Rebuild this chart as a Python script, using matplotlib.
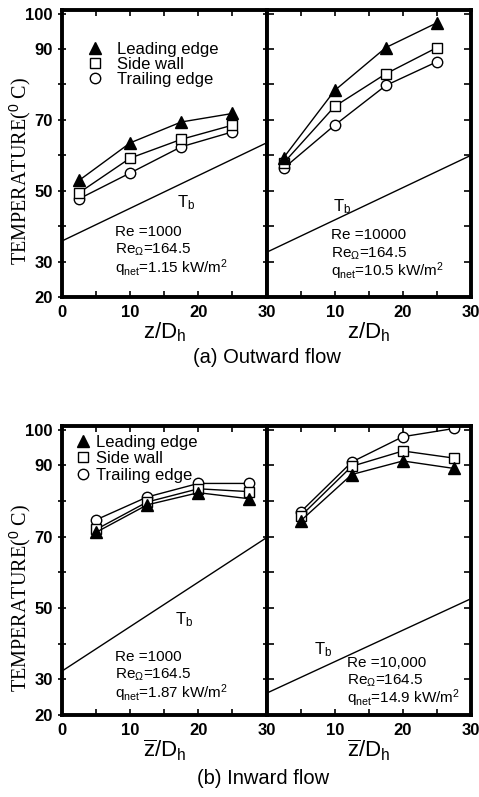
import matplotlib
matplotlib.use("Agg")
import matplotlib.pyplot as plt
from matplotlib.lines import Line2D

plt.rcParams['font.family'] = ['Liberation Sans', 'DejaVu Sans']
plt.rcParams['mathtext.fontset'] = 'custom'
plt.rcParams['mathtext.rm'] = 'Liberation Sans'
plt.rcParams['mathtext.it'] = 'Liberation Sans:italic'
plt.rcParams['mathtext.bf'] = 'Liberation Sans:bold'

# (a) outward flow, stations z/Dh
z_out = [2.5, 10, 17.5, 25]
out_lo_lead = [52.9, 63.5, 69.4, 71.8]
out_lo_side = [49.4, 59.2, 64.5, 68.5]
out_lo_trail = [47.7, 55.0, 62.4, 66.6]
out_hi_lead = [59.3, 78.3, 90.4, 97.4]
out_hi_side = [57.8, 73.8, 83.0, 90.4]
out_hi_trail = [56.3, 68.5, 79.7, 86.4]

# (b) inward flow
z_in = [5, 12.5, 20, 27.5]
in_lo_lead = [71.2, 78.9, 82.3, 80.6]
in_lo_side = [72.0, 79.7, 83.4, 82.6]
in_lo_trail = [74.7, 81.1, 84.9, 84.9]
in_hi_lead = [74.4, 87.4, 91.2, 89.1]
in_hi_side = [75.7, 89.7, 94.0, 92.0]
in_hi_trail = [76.9, 90.9, 98.0, 100.3]

# bulk temperature Tb (straight lines, end points)
tb_z = [0, 30]
tb_out_lo = [35.8, 63.5]
tb_out_hi = [32.6, 60.0]
tb_in_lo = [32.3, 69.7]
tb_in_hi = [26.1, 52.6]

y_ticks = [20, 30, 40, 50, 60, 70, 80, 90, 100]
y_labels = ['20', '30', '', '50', '', '70', '', '90', '100']
x_ticks = [0, 5, 10, 15, 20, 25, 30]
x_labels_left = ['0', '', '10', '', '20', '', '30']
x_labels_right = ['', '', '10', '', '20', '', '30']

series_names = ['Leading edge', 'Side wall', 'Trailing edge']

notes = {
    'out_lo': ['Re =1000', r'Re$_{\Omega}$=164.5', r'q$_{\mathrm{net}}$=1.15 kW/m$^{\mathrm{2}}$'],
    'out_hi': ['Re =10000', r'Re$_{\Omega}$=164.5', r'q$_{\mathrm{net}}$=10.5 kW/m$^{\mathrm{2}}$'],
    'in_lo': ['Re =1000', r'Re$_{\Omega}$=164.5', r'q$_{\mathrm{net}}$=1.87 kW/m$^{\mathrm{2}}$'],
    'in_hi': ['Re =10,000', r'Re$_{\Omega}$=164.5', r'q$_{\mathrm{net}}$=14.9 kW/m$^{\mathrm{2}}$'],
}

fig = plt.figure(figsize=(4.79, 7.97), dpi=100)

W = 0.427
ax_a1 = fig.add_axes([0.1294, 0.6274, W, 0.360])
ax_a2 = fig.add_axes([0.1294 + W, 0.6274, W, 0.360])
ax_b1 = fig.add_axes([0.1294, 0.1029, W, 0.3626])
ax_b2 = fig.add_axes([0.1294 + W, 0.1029, W, 0.3626])


def draw_panel(ax, z, lead, side, trail, tb, first):
    ax.plot(tb_z, tb, color='black', lw=1.0)
    ax.plot(z, trail, color='black', lw=1.0, marker='o', ms=7.5,
            mfc='white', mec='black', mew=1.0)
    ax.plot(z, side, color='black', lw=1.0, marker='s', ms=7,
            mfc='white', mec='black', mew=1.0)
    ax.plot(z, lead, color='black', lw=1.0, marker='^', ms=8,
            mfc='black', mec='black')
    ax.set_xlim(0, 30)
    ax.set_ylim(20, 101)
    ax.set_xticks(x_ticks)
    ax.set_yticks(y_ticks)
    if first:
        ax.set_xticklabels(x_labels_left)
        ax.set_yticklabels(y_labels)
        ax.tick_params(axis='y', direction='inout', length=6)
    else:
        ax.set_xticklabels(x_labels_right)
        ax.set_yticklabels([])
        ax.tick_params(axis='y', direction='in', length=5)
    ax.tick_params(axis='x', direction='in', length=4, top=True)
    ax.tick_params(axis='y', left=True, right=True, width=1.2)
    ax.tick_params(axis='x', width=1.2, pad=6)
    for lab in ax.get_xticklabels() + ax.get_yticklabels():
        lab.set_fontsize(12)
        lab.set_fontweight('bold')
    for sp in ax.spines.values():
        sp.set_linewidth(2.8)


draw_panel(ax_a1, z_out, out_lo_lead, out_lo_side, out_lo_trail, tb_out_lo, True)
draw_panel(ax_a2, z_out, out_hi_lead, out_hi_side, out_hi_trail, tb_out_hi, False)
draw_panel(ax_b1, z_in, in_lo_lead, in_lo_side, in_lo_trail, tb_in_lo, True)
draw_panel(ax_b2, z_in, in_hi_lead, in_hi_side, in_hi_trail, tb_in_hi, False)

handles = [
    Line2D([], [], ls='none', marker='^', ms=8, mfc='black', mec='black'),
    Line2D([], [], ls='none', marker='s', ms=7, mfc='white', mec='black'),
    Line2D([], [], ls='none', marker='o', ms=7.5, mfc='white', mec='black'),
]
ax_a1.legend(handles, series_names, loc='upper left', bbox_to_anchor=(0.12, 0.89),
             frameon=False, fontsize=12, handlelength=1.0, handletextpad=0.8,
             labelspacing=0.0, borderpad=0, borderaxespad=0)
ax_b1.legend(handles, series_names, loc='upper left', bbox_to_anchor=(0.06, 0.97),
             frameon=False, fontsize=12, handlelength=1.0, handletextpad=0.3,
             labelspacing=0.1, borderpad=0, borderaxespad=0)


def put_notes(ax, lines, x, ys):
    for s, y in zip(lines, ys):
        ax.text(x, y, s, transform=ax.transAxes, fontsize=11, ha='left', va='center')


put_notes(ax_a1, notes['out_lo'], 0.257, [0.226, 0.163, 0.100])
put_notes(ax_a2, notes['out_hi'], 0.314, [0.215, 0.152, 0.089])
put_notes(ax_b1, notes['in_lo'], 0.257, [0.201, 0.138, 0.076])
put_notes(ax_b2, notes['in_hi'], 0.392, [0.180, 0.120, 0.059])

for ax, pos in [(ax_a1, (0.607, 0.328)), (ax_a2, (0.368, 0.314)),
                (ax_b1, (0.597, 0.329)), (ax_b2, (0.279, 0.225))]:
    ax.text(pos[0], pos[1], r'T$_{\mathrm{b}}$', transform=ax.transAxes, fontsize=12,
            ha='center', va='center')

for ax in (ax_a1, ax_a2):
    ax.set_xlabel(r'z/D$_{\mathrm{h}}$', fontsize=16, labelpad=0)
for ax in (ax_b1, ax_b2):
    ax.set_xlabel(r'$\overline{\mathrm{z}}$/D$_{\mathrm{h}}$', fontsize=16, labelpad=0)

ylab = r'TEMPERATURE($^{\mathrm{0}}$ C)'
fig.text(0.042, 0.785, ylab, rotation=90, fontsize=14.5,
         family='Liberation Serif', ha='center', va='center')
fig.text(0.042, 0.25, ylab, rotation=90, fontsize=14.5,
         family='Liberation Serif', ha='center', va='center')

fig.text(0.557, 1 - 358 / 797, '(a) Outward flow', fontsize=14.5, ha='center', va='center')
fig.text(0.55, 1 - 778 / 797, '(b) Inward flow', fontsize=14.5, ha='center', va='center')

fig.savefig('out.png', dpi=100)
